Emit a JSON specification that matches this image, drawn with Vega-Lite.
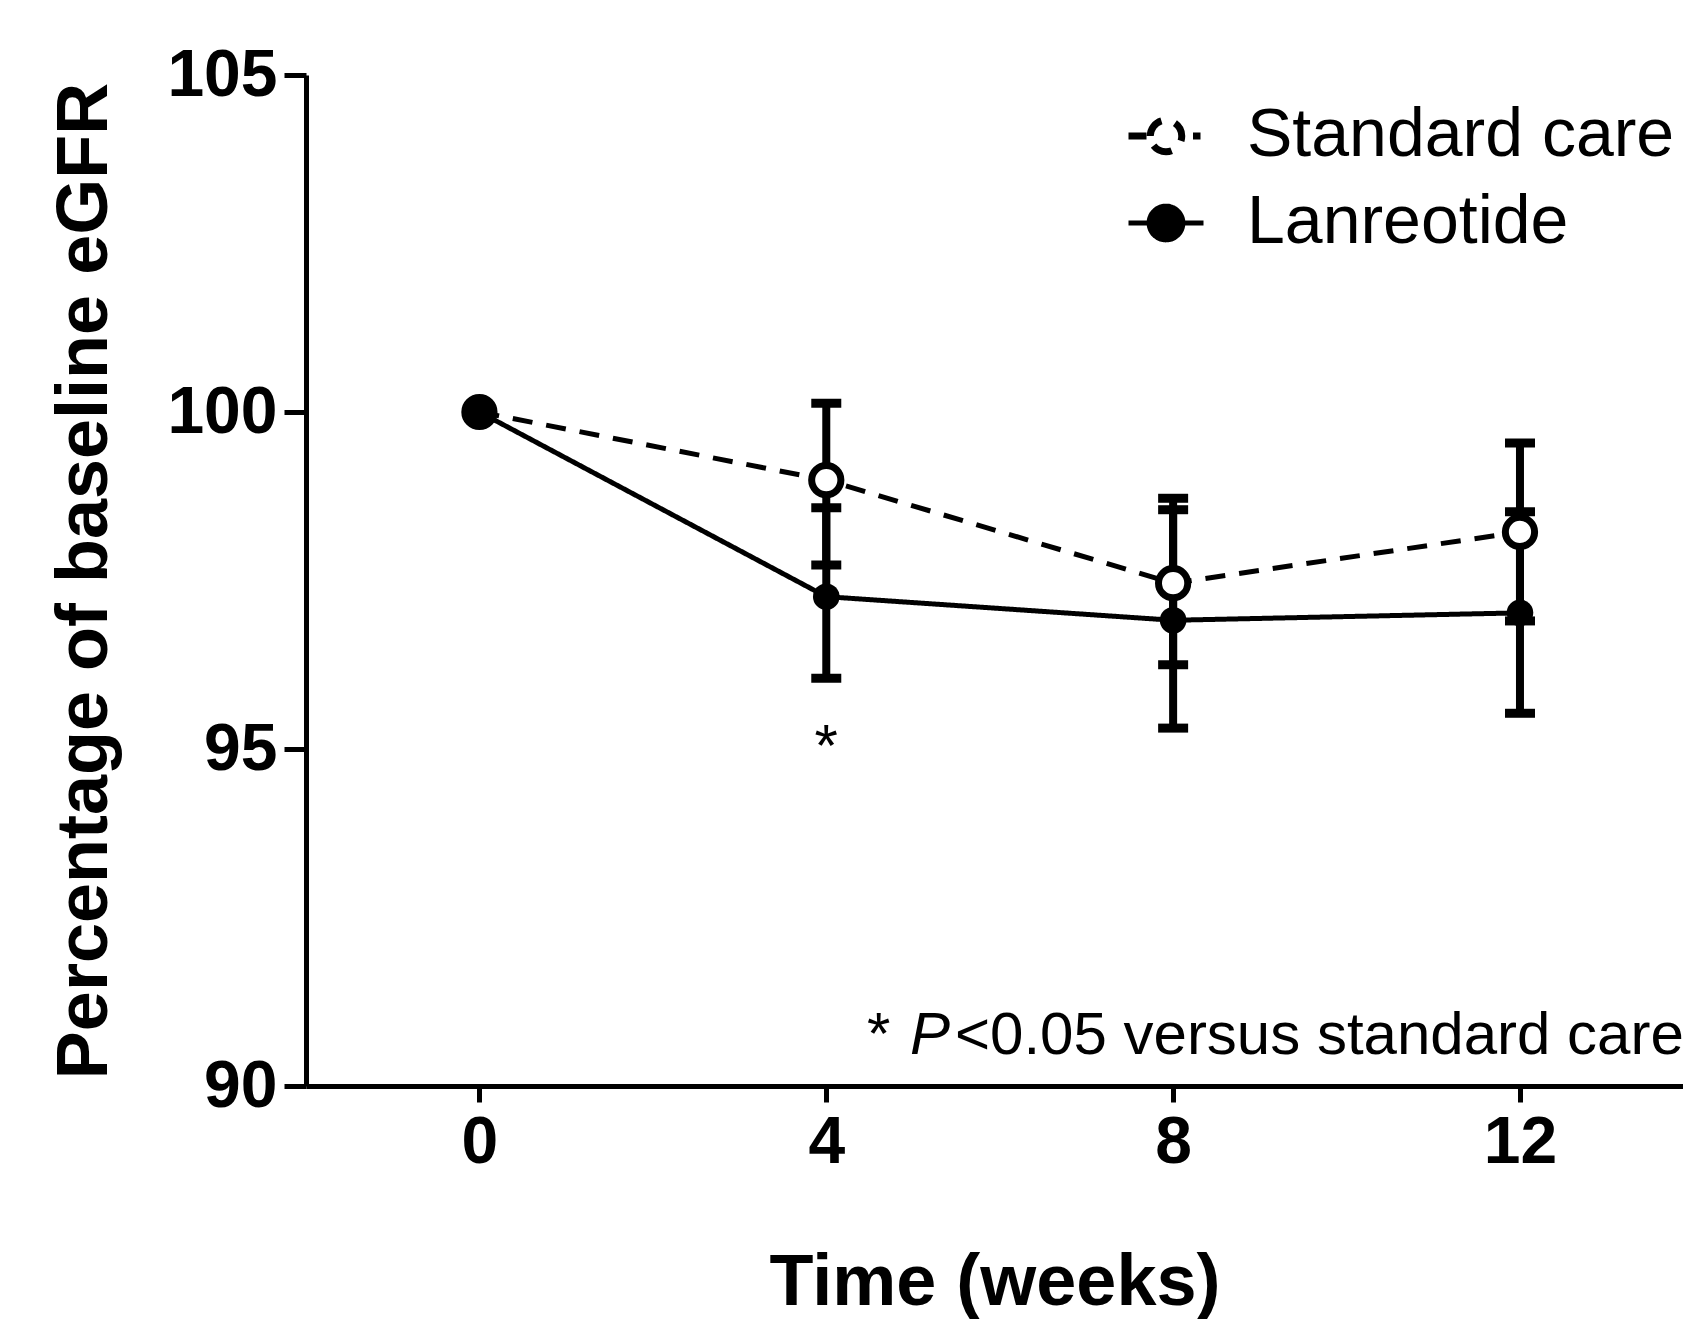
{
  "$schema": "https://vega.github.io/schema/vega-lite/v6.json",
  "width": 1377,
  "height": 1011,
  "autosize": {"type": "none"},
  "padding": {"left": 306, "top": 75, "right": 0, "bottom": 233},
  "background": "white",
  "config": {
    "view": {"stroke": null},
    "font": "Liberation Sans",
    "axis": {"grid": false, "domainColor": "black", "tickColor": "black", "labelColor": "black", "titleColor": "black", "labelFont": "Liberation Sans", "titleFont": "Liberation Sans"}
  },
  "data": {
    "values": [
      {"week": 0, "group": "Standard care", "mean": 100, "lo": null, "hi": null},
      {"week": 4, "group": "Standard care", "mean": 98.99, "lo": 97.73, "hi": 100.13},
      {"week": 8, "group": "Standard care", "mean": 97.46, "lo": 96.25, "hi": 98.72},
      {"week": 12, "group": "Standard care", "mean": 98.22, "lo": 96.9, "hi": 99.54},
      {"week": 0, "group": "Lanreotide", "mean": 100, "lo": null, "hi": null},
      {"week": 4, "group": "Lanreotide", "mean": 97.26, "lo": 96.05, "hi": 98.58},
      {"week": 8, "group": "Lanreotide", "mean": 96.91, "lo": 95.31, "hi": 98.55},
      {"week": 12, "group": "Lanreotide", "mean": 97.02, "lo": 95.53, "hi": 98.52}
    ]
  },
  "layer": [
    {
      "mark": {"type": "line", "strokeWidth": 5},
      "encoding": {
        "x": {
          "field": "week", "type": "quantitative", "title": "Time (weeks)",
          "scale": {"domain": [-2, 13.88], "nice": false, "zero": false},
          "axis": {"values": [0, 4, 8, 12], "format": "d", "titleFontSize": 72, "titleFontWeight": "bold", "labelFontSize": 66, "labelFontWeight": "bold", "tickSize": 16, "tickWidth": 5, "domainWidth": 5, "labelPadding": 8, "titlePadding": 72, "labelFlush": false}
        },
        "y": {
          "field": "mean", "type": "quantitative", "title": "Percentage of baseline eGFR",
          "scale": {"domain": [90, 105], "nice": false, "zero": false},
          "axis": {"values": [90, 95, 100, 105], "format": "d", "titleFontSize": 72, "titleFontWeight": "bold", "labelFontSize": 66, "labelFontWeight": "bold", "tickSize": 22, "tickWidth": 5, "domainWidth": 5, "labelPadding": 7, "titlePadding": 45, "labelFlush": false}
        },
        "strokeDash": {
          "field": "group", "type": "nominal",
          "scale": {"domain": ["Standard care", "Lanreotide"], "range": [[20, 14], [1, 0]]},
          "legend": null
        },
        "color": {
          "field": "group", "type": "nominal",
          "scale": {"domain": ["Standard care", "Lanreotide"], "range": ["black", "black"]},
          "legend": {
            "title": null, "orient": "none", "legendX": 826, "legendY": 27, "padding": 0,
            "symbolType": "M-0.45,0C-0.45,-0.2485 -0.2485,-0.45 0,-0.45C0.2485,-0.45 0.45,-0.2485 0.45,0C0.45,0.2485 0.2485,0.45 0,0.45C-0.2485,0.45 -0.45,0.2485 -0.45,0ZM-1,0H-0.45M0.45,0H1",
            "symbolSize": 5625, "symbolStrokeWidth": 5, "symbolStrokeColor": "black", "symbolDash": [1, 0],
            "labelFontSize": 68, "labelFont": "Liberation Sans", "labelColor": "black", "labelOffset": 47, "rowPadding": 19, "labelLimit": 1000,
            "encode": {"symbols": {"update": {
              "shape": {"signal": "datum.value === 'Standard care' ? 'M-0.42,0C-0.42,-0.232 -0.232,-0.42 0,-0.42C0.232,-0.42 0.42,-0.232 0.42,0C0.42,0.232 0.232,0.42 0,0.42C-0.232,0.42 -0.42,0.232 -0.42,0ZM-1,0H-0.52M0.72,0H0.92' : 'M-0.45,0C-0.45,-0.2485 -0.2485,-0.45 0,-0.45C0.2485,-0.45 0.45,-0.2485 0.45,0C0.45,0.2485 0.2485,0.45 0,0.45C-0.2485,0.45 -0.45,0.2485 -0.45,0ZM-1,0H-0.45M0.45,0H1'"},
              "fill": {"signal": "datum.value === 'Lanreotide' ? 'black' : 'white'"},
              "stroke": {"value": "black"},
              "strokeWidth": {"signal": "datum.value === 'Standard care' ? 7 : 5"},
              "strokeDash": {"value": [1, 0]},
              "opacity": {"value": 1}
            }}}
          }
        }
      }
    },
    {
      "transform": [{"filter": "datum.lo != null"}],
      "mark": {"type": "errorbar", "color": "black", "rule": {"strokeWidth": 8, "opacity": 1, "color": "black"}, "ticks": {"size": 30, "thickness": 9, "opacity": 1, "color": "black"}},
      "encoding": {
        "x": {"field": "week", "type": "quantitative", "title": "Time (weeks)"},
        "y": {"field": "lo", "type": "quantitative", "title": "Percentage of baseline eGFR"},
        "y2": {"field": "hi"}
      }
    },
    {
      "transform": [{"filter": "datum.group == 'Standard care'"}],
      "mark": {"type": "point", "shape": "circle", "filled": false, "fill": "white", "stroke": "black", "strokeWidth": 7, "size": 855, "opacity": 1},
      "encoding": {
        "x": {"field": "week", "type": "quantitative", "title": "Time (weeks)"},
        "y": {"field": "mean", "type": "quantitative", "title": "Percentage of baseline eGFR"}
      }
    },
    {
      "transform": [{"filter": "datum.group == 'Lanreotide'"}],
      "mark": {"type": "circle", "color": "black", "size": 707, "opacity": 1},
      "encoding": {
        "x": {"field": "week", "type": "quantitative", "title": "Time (weeks)"},
        "y": {"field": "mean", "type": "quantitative", "title": "Percentage of baseline eGFR"}
      }
    },
    {
      "data": {"values": [{"week": 4, "y": 94.75, "label": "*"}]},
      "mark": {"type": "text", "fontSize": 60, "baseline": "alphabetic", "align": "center", "color": "black", "font": "Liberation Sans"},
      "encoding": {
        "x": {"field": "week", "type": "quantitative"},
        "y": {"field": "y", "type": "quantitative"},
        "text": {"field": "label"}
      }
    },
    {
      "data": {"values": [{"x": 4.47, "y": 90.47, "star": "*", "p": "P", "rest": "<0.05 versus standard care"}]},
      "layer": [
        {"mark": {"type": "text", "fontSize": 60, "baseline": "alphabetic", "align": "left", "color": "black", "font": "Liberation Sans"},
         "encoding": {"x": {"field": "x", "type": "quantitative"}, "y": {"field": "y", "type": "quantitative"}, "text": {"field": "star"}}},
        {"mark": {"type": "text", "fontSize": 60, "baseline": "alphabetic", "align": "left", "dx": 43, "fontStyle": "italic", "color": "black", "font": "Liberation Sans"},
         "encoding": {"x": {"field": "x", "type": "quantitative"}, "y": {"field": "y", "type": "quantitative"}, "text": {"field": "p"}}},
        {"mark": {"type": "text", "fontSize": 60, "baseline": "alphabetic", "align": "left", "dx": 88, "color": "black", "font": "Liberation Sans"},
         "encoding": {"x": {"field": "x", "type": "quantitative"}, "y": {"field": "y", "type": "quantitative"}, "text": {"field": "rest"}}}
      ]
    }
  ]
}
